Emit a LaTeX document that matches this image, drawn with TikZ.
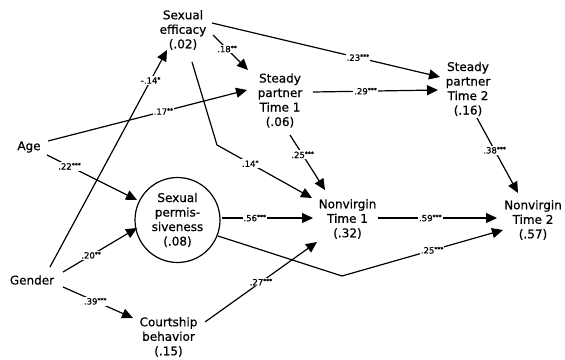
\documentclass[tikz,border=0pt]{standalone}
\usepackage{fontspec}
\setmainfont{DejaVu Sans}[FakeBold=0.7]
\usetikzlibrary{arrows.meta}
\newcommand\sig[1]{\raisebox{0.45ex}{\fontsize{6}{6}\selectfont #1}}
\begin{document}
\begin{tikzpicture}[x=1pt,y=-1pt,
  txt/.style={align=center,inner sep=1pt,font=\fontsize{12}{14.5}\selectfont},
  lbl/.style={fill=white,inner sep=1pt,font=\fontsize{8.5}{9}\selectfont},
  arr/.style={line width=1.2pt,-{Triangle[length=11pt,width=10pt]}},
  ln/.style={line width=1.2pt}]
\useasboundingbox (0,0) rectangle (565,359);
% nodes
\node[txt] (eff) at (183,30) {Sexual\\efficacy\\(.02)};
\node[txt] (sp1) at (280,100.5) {Steady\\partner\\Time 1\\(.06)};
\node[txt] (sp2) at (468,89) {Steady\\partner\\Time 2\\(.16)};
\node[txt] (age) at (29,147) {Age};
\node[txt] (gender) at (32,280) {Gender};
\node[circle,draw,line width=1.2pt,minimum size=85pt,inner sep=0pt,align=center,
      font=\fontsize{12}{14.5}\selectfont] (perm) at (177.5,220) {Sexual\\permis-\\siveness\\(.08)};
\node[txt] (court) at (168.5,337) {Courtship\\behavior\\(.15)};
\node[txt] (nv1) at (347.5,219) {Nonvirgin\\Time 1\\(.32)};
\node[txt] (nv2) at (533,220) {Nonvirgin\\Time 2\\(.57)};
\coordinate (bendA) at (342,276);
\coordinate (bendB) at (217,145);
% connectors
\draw[arr] ([shift={(18,-13)}]gender.center) -- node[lbl,pos=0.86]{-.14\sig{*}} ([shift={(-16,20)}]eff.center);
\draw[arr] ([shift={(19,-6)}]age.center) -- node[lbl,pos=0.58]{.17\sig{**}} ([shift={(-33,-10.5)}]sp1.center);
\draw[arr] ([shift={(18,8)}]age.center) -- node[lbl,pos=0.25]{.22\sig{***}} ([shift={(-40.5,-20)}]perm.center);
\draw[arr] ([shift={(31,-8)}]gender.center) -- node[lbl,pos=0.38]{.20\sig{**}} ([shift={(-40.5,8)}]perm.center);
\draw[arr] ([shift={(31,7)}]gender.center) -- node[lbl,pos=0.46]{.39\sig{***}} ([shift={(-35.5,-19)}]court.center);
\draw[arr] ([shift={(36.5,-15)}]court.center) -- node[lbl,pos=0.5]{.27\sig{***}} ([shift={(-30.5,23)}]nv1.center);
\draw[arr] ([shift={(44.5,-2)}]perm.center) -- node[lbl,pos=0.36]{.56\sig{***}} ([shift={(-34.5,-1)}]nv1.center);
\draw[arr] ([shift={(40.5,16)}]perm.center) -- (bendA) -- node[lbl,pos=0.56]{.25\sig{***}} ([shift={(-30,10)}]nv2.center);
\draw[arr] ([shift={(30.5,-1)}]nv1.center) -- node[lbl,pos=0.44]{.59\sig{***}} ([shift={(-36,-2)}]nv2.center);
\draw[arr] ([shift={(30,5)}]eff.center) -- node[lbl,pos=0.4]{.18\sig{**}} ([shift={(-32,-30.5)}]sp1.center);
\draw[arr] ([shift={(29,-7)}]eff.center) -- node[lbl,pos=0.64]{.23\sig{***}} ([shift={(-28,-12)}]sp2.center);
\draw[arr] ([shift={(9,32)}]eff.center) -- (bendB) -- node[lbl,pos=0.35]{.14\sig{*}} ([shift={(-35.5,-21)}]nv1.center);
\draw[arr] ([shift={(10,34.5)}]sp1.center) -- node[lbl,pos=0.36]{.25\sig{***}} ([shift={(-22.5,-29)}]nv1.center);
\draw[arr] ([shift={(33,-8.5)}]sp1.center) -- node[lbl,pos=0.42]{.29\sig{***}} ([shift={(-30,1)}]sp2.center);
\draw[arr] ([shift={(9,29)}]sp2.center) -- node[lbl,pos=0.43]{.38\sig{***}} ([shift={(-15,-27)}]nv2.center);
\end{tikzpicture}
\end{document}
